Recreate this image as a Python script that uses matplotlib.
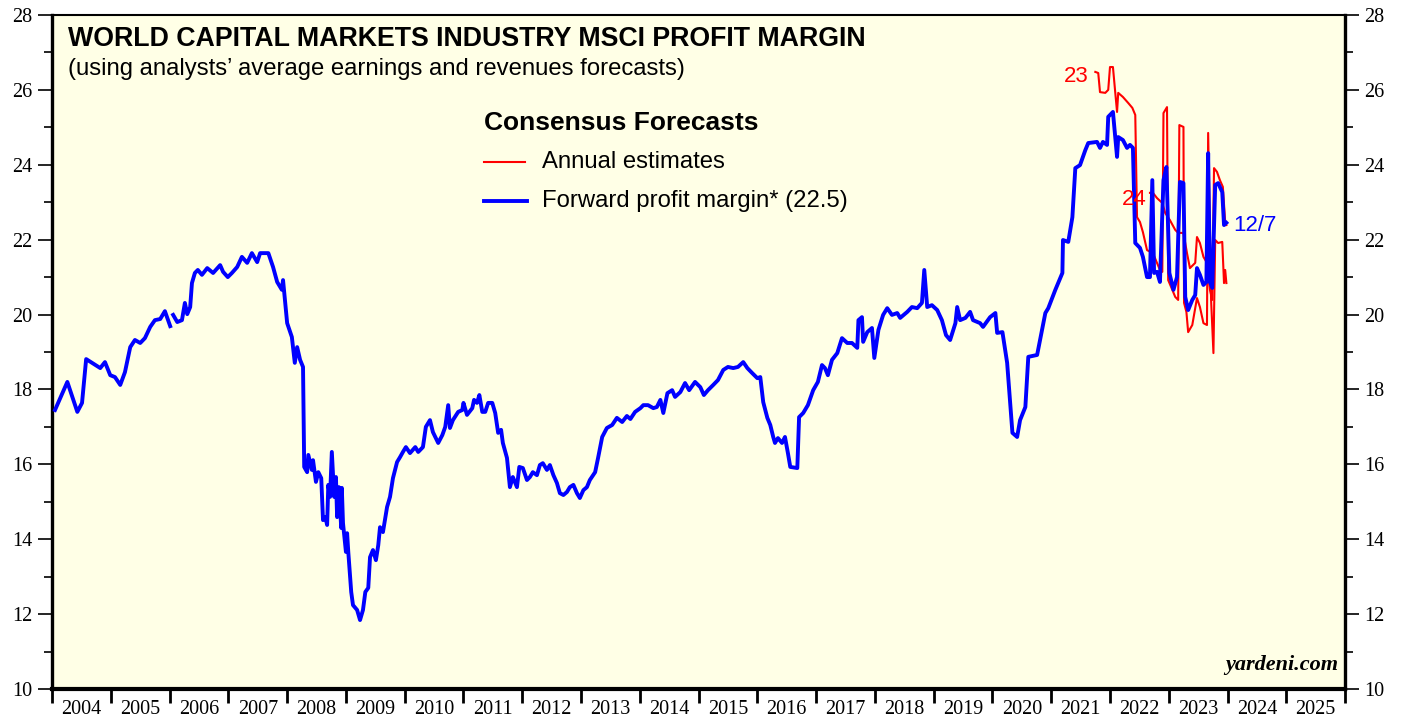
import numpy as np
import matplotlib.pyplot as plt
from matplotlib.ticker import FixedLocator, NullFormatter, FixedFormatter

# ---------------------------------------------------------------
# data (decimal years, percent)
# ---------------------------------------------------------------

blue_t = [
    2004.05, 2004.26, 2004.43, 2004.51, 2004.58, 2004.82, 2004.90, 2004.99,
    2005.07, 2005.16, 2005.24, 2005.33, 2005.41, 2005.50, 2005.58, 2005.67,
    2005.75, 2005.84, 2005.92, 2006.01, 2006.03, 2006.06, 2006.13, 2006.21,
    2006.26, 2006.30, 2006.35, 2006.38, 2006.43, 2006.48, 2006.55, 2006.64,
    2006.74, 2006.86, 2006.91, 2006.99, 2007.06, 2007.15, 2007.23, 2007.32,
    2007.40, 2007.49, 2007.54, 2007.68, 2007.76, 2007.83, 2007.91, 2007.93,
    2008.00, 2008.08, 2008.13, 2008.17, 2008.22, 2008.27, 2008.29, 2008.34,
    2008.36, 2008.42, 2008.44, 2008.49, 2008.53, 2008.58, 2008.61, 2008.65,
    2008.68, 2008.70, 2008.73, 2008.76, 2008.80, 2008.83, 2008.85, 2008.88,
    2008.92, 2008.93, 2008.95, 2009.00, 2009.02, 2009.04, 2009.09, 2009.12,
    2009.19, 2009.24, 2009.29, 2009.33, 2009.38, 2009.41, 2009.46, 2009.51,
    2009.55, 2009.58, 2009.63, 2009.70, 2009.75, 2009.80, 2009.87, 2009.92,
    2009.97, 2010.02, 2010.09, 2010.18, 2010.23, 2010.31, 2010.36, 2010.43,
    2010.48, 2010.57, 2010.64, 2010.69, 2010.74, 2010.77, 2010.82, 2010.91,
    2010.98, 2011.00, 2011.06, 2011.15, 2011.18, 2011.23, 2011.27, 2011.32,
    2011.37, 2011.42, 2011.49, 2011.54, 2011.59, 2011.64, 2011.67, 2011.74,
    2011.79, 2011.84, 2011.91, 2011.95, 2012.01, 2012.08, 2012.13, 2012.18,
    2012.25, 2012.30, 2012.35, 2012.42, 2012.47, 2012.53, 2012.59, 2012.64,
    2012.70, 2012.76, 2012.81, 2012.87, 2012.93, 2012.98, 2013.04, 2013.10,
    2013.15, 2013.24, 2013.29, 2013.36, 2013.44, 2013.53, 2013.61, 2013.70,
    2013.78, 2013.84, 2013.92, 2014.01, 2014.06, 2014.14, 2014.23, 2014.29,
    2014.35, 2014.40, 2014.47, 2014.55, 2014.60, 2014.69, 2014.77, 2014.84,
    2014.94, 2015.03, 2015.09, 2015.16, 2015.25, 2015.33, 2015.42, 2015.50,
    2015.59, 2015.67, 2015.76, 2015.83, 2015.91, 2016.00, 2016.05, 2016.10,
    2016.17, 2016.22, 2016.27, 2016.30, 2016.35, 2016.42, 2016.47, 2016.52,
    2016.56, 2016.68, 2016.71, 2016.78, 2016.86, 2016.95, 2017.03, 2017.10,
    2017.15, 2017.20, 2017.27, 2017.36, 2017.44, 2017.53, 2017.61, 2017.70,
    2017.72, 2017.78, 2017.80, 2017.87, 2017.95, 2017.99, 2018.06, 2018.14,
    2018.21, 2018.29, 2018.38, 2018.43, 2018.55, 2018.63, 2018.72, 2018.80,
    2018.84, 2018.89, 2018.97, 2019.06, 2019.14, 2019.21, 2019.28, 2019.37,
    2019.40, 2019.45, 2019.54, 2019.62, 2019.67, 2019.79, 2019.84, 2019.96,
    2020.05, 2020.08, 2020.17, 2020.25, 2020.34, 2020.42, 2020.47, 2020.56,
    2020.61, 2020.76, 2020.81, 2020.90, 2020.95, 2021.07, 2021.19, 2021.20,
    2021.29, 2021.36, 2021.41, 2021.49, 2021.58, 2021.63, 2021.78, 2021.83,
    2021.88, 2021.95, 2021.97, 2022.05, 2022.12, 2022.14, 2022.22, 2022.29,
    2022.34, 2022.39, 2022.43, 2022.51, 2022.56, 2022.63, 2022.68, 2022.72,
    2022.75, 2022.80, 2022.85, 2022.91, 2022.96, 2023.01, 2023.08, 2023.14,
    2023.19, 2023.25, 2023.28, 2023.33, 2023.40, 2023.45, 2023.48, 2023.53,
    2023.59, 2023.64, 2023.67, 2023.70, 2023.74, 2023.79, 2023.84, 2023.91,
    2023.94, 2023.98,
]
blue_v = [
    17.45, 18.20, 17.40, 17.64, 18.81, 18.57, 18.73, 18.38,
    18.33, 18.12, 18.46, 19.13, 19.32, 19.24, 19.37, 19.67,
    19.85, 19.88, 20.09, 19.69, np.nan, 19.99, 19.80, 19.85,
    20.31, 20.01, 20.20, 20.84, 21.11, 21.19, 21.06, 21.24,
    21.11, 21.32, 21.14, 21.00, 21.11, 21.27, 21.54, 21.38,
    21.64, 21.40, 21.64, 21.64, 21.27, 20.87, 20.66, 20.92,
    19.77, 19.40, 18.71, 19.13, 18.79, 18.60, 15.93, 15.79,
    16.25, 15.85, 16.11, 15.53, 15.79, 15.63, 14.51, 14.59,
    14.38, 15.45, 15.13, 16.33, 15.13, 15.66, 14.59, 15.39,
    14.30, 15.37, 14.43, 13.66, 14.16, 13.66, 12.59, 12.24,
    12.11, 11.84, 12.11, 12.59, 12.70, 13.52, 13.71, 13.44,
    13.84, 14.32, 14.19, 14.86, 15.13, 15.63, 16.06, 16.19,
    16.33, 16.46, 16.30, 16.46, 16.33, 16.46, 17.00, 17.18,
    16.86, 16.57, 16.78, 17.00, 17.58, 16.97, 17.18, 17.40,
    17.45, 17.64, 17.32, 17.50, 17.72, 17.64, 17.85, 17.40,
    17.40, 17.64, 17.64, 17.37, 16.84, 16.92, 16.57, 16.17,
    15.39, 15.66, 15.39, 15.93, 15.90, 15.58, 15.66, 15.79,
    15.71, 15.98, 16.03, 15.85, 15.98, 15.71, 15.50, 15.23,
    15.18, 15.26, 15.39, 15.45, 15.23, 15.10, 15.31, 15.39,
    15.58, 15.79, 16.17, 16.73, 16.97, 17.05, 17.24, 17.13,
    17.29, 17.21, 17.40, 17.50, 17.58, 17.58, 17.50, 17.53,
    17.72, 17.37, 17.90, 17.98, 17.80, 17.93, 18.17, 17.98,
    18.20, 18.06, 17.85, 17.98, 18.12, 18.25, 18.52, 18.60,
    18.57, 18.60, 18.73, 18.57, 18.44, 18.30, 18.33, 17.66,
    17.24, 17.05, 16.73, 16.57, 16.70, 16.57, 16.73, 16.30,
    15.93, 15.90, 17.26, 17.37, 17.58, 17.98, 18.20, 18.65,
    18.57, 18.38, 18.79, 18.97, 19.37, 19.24, 19.24, 19.11,
    19.85, 19.93, 19.27, 19.53, 19.64, 18.84, 19.59, 19.99,
    20.17, 19.99, 20.04, 19.91, 20.07, 20.20, 20.17, 20.31,
    21.19, 20.20, 20.25, 20.12, 19.85, 19.45, 19.32, 19.77,
    20.20, 19.85, 19.91, 20.07, 19.85, 19.77, 19.67, 19.93,
    20.04, 19.51, 19.53, 18.71, 16.84, 16.73, 17.18, 17.53,
    18.87, 18.92, 19.32, 20.04, 20.17, 20.66, 21.11, 21.99,
    21.94, 22.60, 23.91, 23.99, 24.39, 24.58, 24.61, 24.45,
    24.61, 24.53, 25.28, 25.41, 24.21, 24.74, 24.66, 24.45,
    24.53, 24.45, 21.91, 21.78, 21.54, 21.00, 21.00, 23.59,
    21.11, 21.14, 20.87, 23.59, 23.94, 21.11, 20.66, 21.00,
    23.54, 23.51, 20.47, 20.12, 20.39, 20.52, 21.24, 21.06,
    20.79, 20.87, 24.31, 20.87, 20.71, 23.46, 23.51, 23.27,
    22.39, 22.45,
]

# annual estimates for 2023
red23_t = [
    2021.75, 2021.80, 2021.83, 2021.92, 2021.97, 2022.00, 2022.05, 2022.09,
    2022.12, 2022.14, 2022.22, 2022.31, 2022.38, 2022.43, 2022.46, 2022.51,
    2022.56, 2022.63, 2022.73, 2022.85, 2022.89, 2022.91, 2022.97, 2022.99,
    2023.06, 2023.11, 2023.16, 2023.18, 2023.25, 2023.26, 2023.30, 2023.33,
    2023.40, 2023.48, 2023.53, 2023.59, 2023.65, 2023.67, 2023.72, 2023.76,
    2023.79, 2023.84, 2023.91, 2023.94, 2023.96, 2023.98,
]
red23_v = [
    26.48, 26.45, 25.94, 25.92, 26.00, 26.61, 26.61, 25.92,
    25.41, 25.92, 25.81, 25.65, 25.52, 25.33, 22.60, 22.47,
    22.20, 21.72, 21.64, 21.19, 21.14, 25.38, 25.54, 20.92,
    20.66, 20.47, 20.39, 25.06, 25.01, 20.31, 20.07, 19.53,
    19.72, 20.44, 20.20, 19.77, 19.72, 24.85, 20.39, 18.97,
    21.99, 21.91, 21.94, 20.84, 21.19, 20.84,
]

# annual estimates for 2024
red24_t = [
    2022.68, 2022.73, 2022.80, 2022.89, 2022.94, 2023.02, 2023.11, 2023.16,
    2023.25, 2023.31, 2023.36, 2023.45, 2023.48, 2023.53, 2023.59, 2023.65,
    2023.70, 2023.74, 2023.77, 2023.82, 2023.87, 2023.92, 2023.96, 2023.98,
]
red24_v = [
    23.25, 23.25, 23.11, 22.98, 22.71, 22.52, 22.26, 22.18,
    22.18, 21.64, 21.24, 21.38, 22.07, 21.91, 21.54, 21.38,
    20.66, 20.39, 23.91, 23.81, 23.59, 23.41, 22.47, 22.39,
]

years = list(range(2004, 2026))
last_value = 22.5

BG = '#FFFFE6'
BLUE = '#0000FF'
RED = '#FF0000'
SANS = ['Liberation Sans', 'DejaVu Sans']
SERIF = ['Liberation Serif', 'DejaVu Serif']

# ---------------------------------------------------------------
# figure
# ---------------------------------------------------------------

fig = plt.figure(figsize=(14.07, 7.17), dpi=100)
ax = fig.add_axes([0.0370, 0.0391, 0.9190, 0.9400])
ax.set_facecolor(BG)

ax.plot(red23_t, red23_v, color=RED, lw=1.5, zorder=2)
ax.plot(red24_t, red24_v, color=RED, lw=1.5, zorder=2)
ax.plot(blue_t, blue_v, color=BLUE, lw=2.8, zorder=3, solid_joinstyle='round')

ax.set_xlim(2004, 2026)
ax.set_ylim(10, 28)

# y axis, labels on both sides
ax.yaxis.set_major_locator(FixedLocator(np.arange(10, 29, 2)))
ax.yaxis.set_minor_locator(FixedLocator(np.arange(11, 28, 2)))
ax.tick_params(axis='y', which='major', direction='out', length=10, width=1.2,
               left=True, right=True, labelleft=True, labelright=True,
               labelsize=14.5, pad=4)
ax.tick_params(axis='y', which='minor', direction='out', length=5.5, width=1.2,
               left=True, right=True)
for lab in ax.get_yticklabels():
    lab.set_fontfamily(SERIF)

# x axis: ticks at year boundaries, labels centred in each year
ax.xaxis.set_major_locator(FixedLocator(np.arange(2004, 2027)))
ax.xaxis.set_major_formatter(NullFormatter())
ax.xaxis.set_minor_locator(FixedLocator([y + 0.5 for y in years]))
ax.xaxis.set_minor_formatter(FixedFormatter([str(y) for y in years]))
ax.tick_params(axis='x', which='major', direction='out', length=10, width=2)
ax.tick_params(axis='x', which='minor', length=0, labelsize=14.5, pad=8)
for lab in ax.get_xticklabels(minor=True):
    lab.set_fontfamily(SERIF)

for side, w in [('left', 2.4), ('bottom', 3), ('right', 2.4), ('top', 1.5)]:
    ax.spines[side].set_linewidth(w)

# titles
ax.text(0.012, 0.965, 'WORLD CAPITAL MARKETS INDUSTRY MSCI PROFIT MARGIN',
        transform=ax.transAxes, fontsize=19.3, fontweight='bold',
        family=SANS, va='center', ha='left')
ax.text(0.012, 0.920, '(using analysts\u2019 average earnings and revenues forecasts)',
        transform=ax.transAxes, fontsize=17.2, family=SANS, va='center', ha='left')

# legend
ax.text(0.334, 0.839, 'Consensus Forecasts', transform=ax.transAxes,
        fontsize=19, fontweight='bold', family=SANS, va='center', ha='left')
ax.plot([0.334, 0.366], [0.782, 0.782], transform=ax.transAxes, color=RED, lw=1.5)
ax.text(0.379, 0.782, 'Annual estimates', transform=ax.transAxes,
        fontsize=17.2, family=SANS, va='center', ha='left')
ax.plot([0.334, 0.367], [0.724, 0.724], transform=ax.transAxes, color=BLUE, lw=2.8)
ax.text(0.379, 0.724, f'Forward profit margin* ({last_value})',
        transform=ax.transAxes, fontsize=17.2, family=SANS, va='center', ha='left')

# series annotations
ax.text(red23_t[0] - 0.12, red23_v[0] - 0.12, '23', color=RED, fontsize=16,
        family=SANS, ha='right', va='center')
ax.text(red24_t[0] - 0.05, red24_v[0] - 0.17, '24', color=RED, fontsize=16,
        family=SANS, ha='right', va='center')
ax.text(blue_t[-1] + 0.12, blue_v[-1] - 0.08, '12/7', color=BLUE, fontsize=16,
        family=SANS, ha='left', va='center')

ax.text(0.995, 0.020, 'yardeni.com', transform=ax.transAxes, fontsize=16,
        fontweight='bold', fontstyle='italic', family=SERIF,
        ha='right', va='bottom')

fig.savefig('out.png', dpi=100, facecolor='white')
